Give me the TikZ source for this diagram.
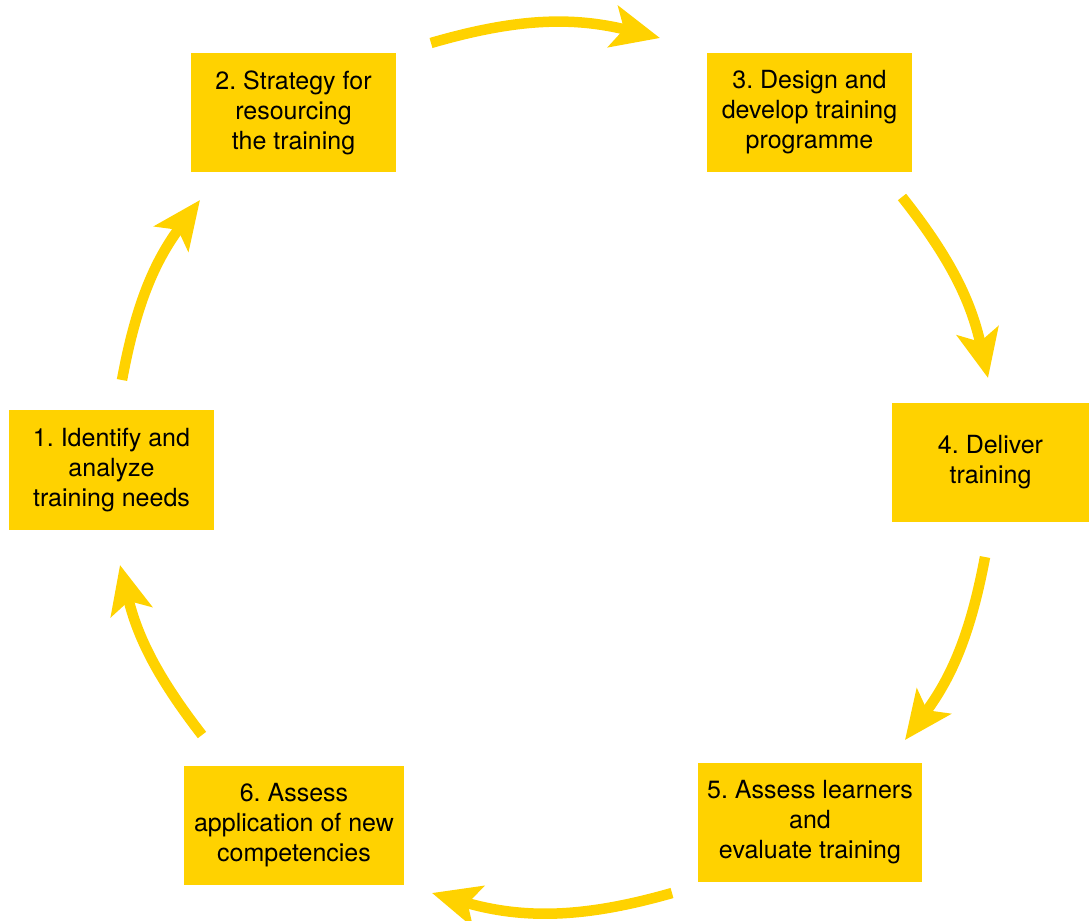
\documentclass[tikz,border=0pt]{standalone}
\usepackage{fontspec}
\setmainfont{TeX Gyre Heros}
\usetikzlibrary{arrows.meta}
\definecolor{gold}{HTML}{FFD200}
\frenchspacing
\begin{document}
\begin{tikzpicture}[x=1pt,y=1pt,
  stagebox/.style={fill=gold, draw=none, inner sep=0pt, align=center,
    font=\fontsize{25pt}{30pt}\selectfont\frenchspacing, text=black},
  cyclearrow/.style={draw=gold, line width=10.5pt,
    -{Stealth[length=48pt,width=42pt,inset=11pt]}}]
\useasboundingbox (0,0) rectangle (1090,-921);
\node[stagebox, minimum width=205pt, minimum height=120pt] (s1) at (111.5,-470) {1. Identify and\\analyze\\training needs};
\node[stagebox, minimum width=205pt, minimum height=119pt] (s2) at (293.5,-112.5) {2. Strategy for\\resourcing\\the training};
\node[stagebox, minimum width=205pt, minimum height=119pt] (s3) at (809.5,-112.5) {3. Design and\\develop training\\programme};
\node[stagebox, minimum width=197pt, minimum height=119pt] (s4) at (990.5,-462.5) {4. Deliver\\training};
\node[stagebox, minimum width=224pt, minimum height=119pt] (s5) at (810,-822.5) {5. Assess learners\\and\\evaluate training};
\node[stagebox, minimum width=220pt, minimum height=119pt] (s6) at (294,-825.5) {6. Assess\\application of new\\competencies};
\coordinate (a1s) at (122,-380);  \coordinate (a1e) at (200,-200);
\coordinate (a2s) at (431,-43);   \coordinate (a2e) at (660,-38);
\coordinate (a3s) at (902,-197);  \coordinate (a3e) at (988,-378);
\coordinate (a4s) at (985,-557);  \coordinate (a4e) at (905,-740);
\coordinate (a5s) at (672,-893);  \coordinate (a5e) at (432,-893);
\coordinate (a6s) at (202,-735);  \coordinate (a6e) at (120,-565);
\draw[cyclearrow] (a1s) to[bend left=13] (a1e);
\draw[cyclearrow] (a2s) to[bend left=15] (a2e);
\draw[cyclearrow] (a3s) to[bend left=13] (a3e);
\draw[cyclearrow] (a4s) to[bend left=13] (a4e);
\draw[cyclearrow] (a5s) to[bend left=16] (a5e);
\draw[cyclearrow] (a6s) to[bend left=12] (a6e);
\end{tikzpicture}
\end{document}
